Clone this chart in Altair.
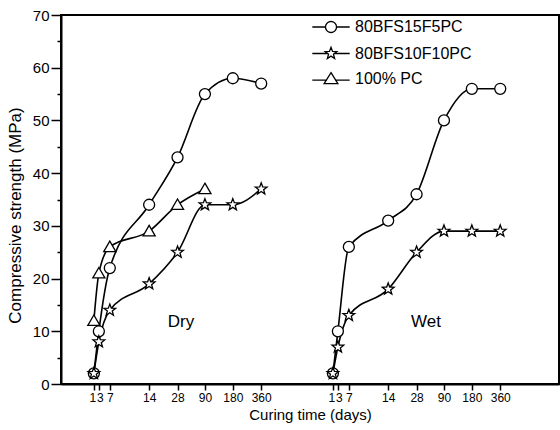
import math
import altair as alt
import pandas as pd

# ---- data ----
days = [1, 3, 7, 14, 28, 90, 180, 360]
day_labels = ["1", "3", "7", "14", "28", "90", "180", "360"]
# axis positions of the curing-time categories (broken axis), dry block; wet block shifted
dry_pos = [6.6, 7.6, 9.8, 17.7, 23.4, 28.9, 34.5, 40.2]
wet_shift = 48.0
wet_pos = [p + wet_shift for p in dry_pos]

series_names = ["80BFS15F5PC", "80BFS10F10PC", "100% PC"]

dry_15f5 = [2, 10, 22, 34, 43, 55, 58, 57]
dry_10f10 = [2, 8, 14, 19, 25, 34, 34, 37]
dry_pc = [12, 21, 26, 29, 34, 37]          # 1..90 days
wet_15f5 = [2, 10, 26, 31, 36, 50, 56, 56]
wet_10f10 = [2, 7, 13, 18, 25, 29, 29, 29]

note_text = ["Dry", "Wet"]
note_pos = [24.1, 73.3]
note_val = [11.8, 11.8]

# ---- table ----
rows = []
def add(series, cond, pos_list, vals):
    for p, v in zip(pos_list, vals):
        rows.append({"series": series, "curve": series + " " + cond, "pos": p, "value": v})

add(series_names[0], "Dry", dry_pos, dry_15f5)
add(series_names[0], "Wet", wet_pos, wet_15f5)
add(series_names[1], "Dry", dry_pos, dry_10f10)
add(series_names[1], "Wet", wet_pos, wet_10f10)
add(series_names[2], "Dry", dry_pos, dry_pc)
df = pd.DataFrame(rows)
notes_df = pd.DataFrame({"text": note_text, "pos": note_pos, "value": note_val})

# ---- marker paths ----
def star(r_out, r_in):
    pts = []
    for k in range(10):
        a = math.radians(-90 + 36 * k)
        r = r_out if k % 2 == 0 else r_in
        pts.append(f"{r * math.cos(a):.3f},{r * math.sin(a):.3f}")
    return "M" + "L".join(pts) + "Z"

def ring(n=28):
    pts = []
    for k in range(n):
        a = 2 * math.pi * k / n
        pts.append(f"{math.cos(a):.3f},{math.sin(a):.3f}")
    return "M" + "L".join(pts) + "Z"

star_path = star(1.12, 0.47)
tri_path = "M0,-1.05L1.1,0.85L-1.1,0.85Z"
marker_shapes = ["circle", star_path, tri_path]

L = 3.4
legend_shapes = [
    ring() + f"M-{L},0L-1,0M1,0L{L},0",
    star_path + f"M-{L},0L-0.62,0M0.62,0L{L},0",
    "M0,-1.15L1.25,0.85L-1.25,0.85Z" + f"M-{L},0.2L-0.72,0.2M0.72,0.2L{L},0.2",
]

# tick label expression
pairs = list(zip(dry_pos + wet_pos, day_labels + day_labels))
label_expr = ""
for p, lab in pairs:
    label_expr += f"abs(datum.value - {p}) < 0.01 ? '{lab}' : "
label_expr += "''"

one_test = " || ".join(f"abs(datum.value - {p}) < 0.01" for p in (dry_pos[0], wet_pos[0]))
three_test = " || ".join(f"abs(datum.value - {p}) < 0.01" for p in (dry_pos[1], wet_pos[1]))

FONT = "Liberation Sans"

x_enc = alt.X(
    "pos:Q",
    scale=alt.Scale(domain=[0, 100], nice=False, zero=False),
    axis=alt.Axis(
        values=dry_pos + wet_pos,
        tickCount=100,
        labelExpr=label_expr,
        labelOffset={
            "condition": [
                {"test": one_test, "value": -1.5},
                {"test": three_test, "value": 1},
            ],
            "value": 0,
        },
        tickSize=6,
        labelPadding=2,
        labelFontSize=12,
        labelOverlap=False,
        labelFlush=False,
        titleFontSize=15,
        titlePadding=4,
        grid=False,
    ),
    title="Curing time (days)",
)
y_enc = alt.Y(
    "value:Q",
    scale=alt.Scale(domain=[0, 70], nice=False),
    axis=alt.Axis(
        values=list(range(0, 71, 5)),
        tickCount=100,
        format="d",
        labelExpr="datum.value % 10 === 0 ? datum.label : ''",
        tickSize={"condition": {"test": "datum.value % 10 === 0", "value": 10}, "value": 4},
        labelPadding=2,
        labelFontSize=15,
        titleFontSize=17,
        titlePadding=8,
        titleY=200,
        grid=False,
    ),
    title="Compressive strength (MPa)",
)

base = alt.Chart(df)

lines = base.mark_line(interpolate="monotone", color="black", strokeWidth=1.6).encode(
    x=x_enc, y=y_enc, detail="curve:N"
)

# legend-only layer: no rows drawn, entries come from the explicit shape domain
legend_layer = base.transform_filter("false").mark_point(
    filled=False, color="black", strokeWidth=1.3, size=121, opacity=1
).encode(
    x="pos:Q",
    y="value:Q",
    shape=alt.Shape(
        "series:N",
        scale=alt.Scale(domain=series_names, range=legend_shapes),
        legend=alt.Legend(
            title=None,
            orient="none",
            legendX=262,
            legendY=4,
            padding=0,
            symbolFillColor="white",
            symbolStrokeColor="black",
            symbolStrokeWidth=1.3,
            symbolSize=121,
            symbolOpacity=1,
            labelOffset=16,
            labelFontSize=16,
            labelFont=FONT,
            labelColor="black",
            rowPadding=8.5,
        ),
    ),
)

points = base.mark_point(
    filled=True, fill="white", stroke="black", strokeWidth=1.3, size=121, opacity=1
).encode(
    x="pos:Q",
    y="value:Q",
    shape=alt.Shape(
        "series:N", scale=alt.Scale(domain=series_names, range=marker_shapes), legend=None
    ),
)

notes = alt.Chart(notes_df).mark_text(fontSize=17, font=FONT, color="black").encode(
    x="pos:Q", y="value:Q", text="text:N"
)

chart = (
    alt.layer(lines, legend_layer, points, notes)
    .resolve_scale(shape="independent")
    .properties(
        width=498,
        height=369,
        padding={"left": 61, "top": 15, "right": 1, "bottom": 46},
        autosize=alt.AutoSizeParams(type="none"),
        background="white",
    )
    .configure_view(stroke="black", strokeWidth=2)
    .configure_axis(
        domainColor="black",
        domainWidth=2,
        tickColor="black",
        tickWidth=1.5,
        labelColor="black",
        titleColor="black",
        labelFont=FONT,
        titleFont=FONT,
        titleFontWeight="normal",
    )
)

chart.save("out.html", embed_options={"renderer": "svg", "actions": False})
